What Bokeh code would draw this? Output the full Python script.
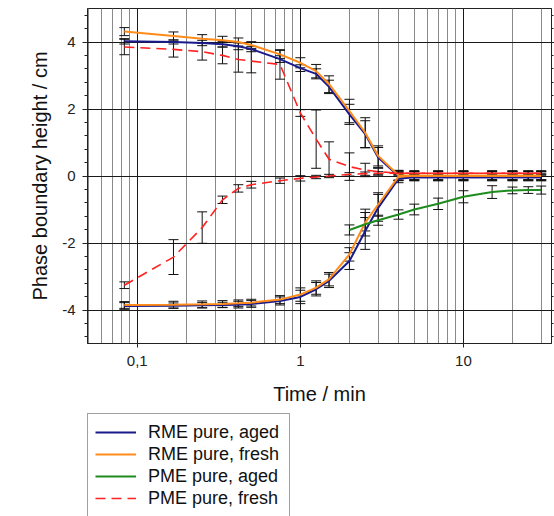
from bokeh.plotting import figure
from bokeh.layouts import column
from bokeh.models import (ColumnDataSource, Whisker, TeeHead, FixedTicker, LinearAxis,
                          Legend, LegendItem, Range1d, CustomJSTickFormatter)
from bokeh.embed import file_html
from bokeh.resources import INLINE

# ---- data ----
t = [0.0833, 0.1667, 0.25, 0.3333, 0.4167, 0.5, 0.75, 1.0, 1.25, 1.5, 2.0, 2.5, 3.0,
     4.0, 5.0, 7.0, 10.0, 15.0, 20.0, 25.0, 30.0]

rme_aged_top = [4.02, 4.00, 3.97, 3.93, 3.87, 3.79, 3.49, 3.22, 3.05, 2.66, 1.84, 1.25, 0.55,
                0.00, -0.04, -0.04, -0.04, -0.04, -0.04, -0.04, -0.04]
rme_aged_top_err = [0.08, 0.06, 0.08, 0.08, 0.10, 0.08, 0.10, 0.10, 0.15, 0.20, 0.30, 0.40, 0.30,
                    0.12, 0.10, 0.10, 0.10, 0.10, 0.10, 0.10, 0.10]
rme_aged_bot = [-3.88, -3.87, -3.86, -3.85, -3.84, -3.82, -3.73, -3.61, -3.38, -3.13, -2.54, -1.64, -0.95,
                -0.08, -0.04, -0.04, -0.04, -0.04, -0.04, -0.04, -0.04]
rme_aged_bot_err = [0.10, 0.08, 0.08, 0.08, 0.10, 0.10, 0.12, 0.20, 0.20, 0.20, 0.25, 0.55, 0.40,
                    0.12, 0.10, 0.10, 0.10, 0.10, 0.10, 0.10, 0.10]

rme_fresh_top = [4.31, 4.18, 4.10, 4.05, 4.00, 3.91, 3.63, 3.38, 3.13, 2.74, 1.94, 1.29, 0.60,
                 0.02, 0.01, 0.01, 0.01, 0.01, 0.01, 0.01, 0.01]
rme_fresh_top_err = [0.12, 0.12, 0.12, 0.12, 0.12, 0.10, 0.12, 0.15, 0.20, 0.25, 0.35, 0.45, 0.30,
                     0.15, 0.12, 0.12, 0.12, 0.12, 0.12, 0.12, 0.12]
rme_fresh_bot = [-3.85, -3.84, -3.83, -3.82, -3.80, -3.78, -3.69, -3.54, -3.33, -3.08, -2.34, -1.39, -0.85,
                 -0.02, 0.01, 0.01, 0.01, 0.01, 0.01, 0.01, 0.01]
rme_fresh_bot_err = [0.10, 0.10, 0.10, 0.10, 0.10, 0.10, 0.12, 0.20, 0.20, 0.20, 0.20, 0.40, 0.35,
                     0.12, 0.12, 0.12, 0.12, 0.12, 0.12, 0.12, 0.12]

t_pme_aged = [2.0, 2.5, 3.0, 4.0, 5.0, 7.0, 10.0, 15.0, 20.0, 25.0, 30.0]
pme_aged = [-1.61, -1.44, -1.32, -1.15, -1.00, -0.83, -0.62, -0.48, -0.43, -0.42, -0.42]
pme_aged_err = [0.15, 0.20, 0.15, 0.14, 0.16, 0.17, 0.18, 0.19, 0.10, 0.10, 0.12]

pme_fresh_top = [3.85, 3.78, 3.71, 3.60, 3.48, 3.43, 3.33, 1.88, 1.10, 0.50, 0.28, 0.18, 0.13,
                 0.08, 0.08, 0.08, 0.08, 0.08, 0.08, 0.08, 0.08]
pme_fresh_top_err = [0.23, 0.23, 0.25, 0.25, 0.38, 0.35, 0.44, 0.10, 0.87, 0.52, 0.41, 0.20, 0.10,
                     0.08, 0.08, 0.08, 0.08, 0.08, 0.08, 0.08, 0.08]
pme_fresh_bot = [-3.26, -2.42, -1.54, -0.71, -0.37, -0.26, -0.14, -0.07, -0.03, 0.00, 0.05, 0.07, 0.08,
                 0.08, 0.08, 0.08, 0.08, 0.08, 0.08, 0.08, 0.08]
pme_fresh_bot_err = [0.10, 0.52, 0.47, 0.11, 0.11, 0.10, 0.08, 0.08, 0.05, 0.05, 0.05, 0.05, 0.05,
                     0.05, 0.05, 0.05, 0.05, 0.05, 0.05, 0.05, 0.05]

x_major = [0.1, 1, 10]
x_labels = {0.1: "0,1", 1: "1", 10: "10"}
y_major = [-4, -2, 0, 2, 4]
y_labels = {-4: "-4", -2: "-2", 0: "0", 2: "2", 4: "4"}

names = ["RME pure, aged", "RME pure, fresh", "PME pure, aged", "PME pure, fresh"]
colors = ["#1a1a8c", "#ff8c1a", "#1e8c1e", "#ff2020"]
styles = [dict(line_width=2), dict(line_width=2), dict(line_width=2),
          dict(line_width=1.6, line_dash="10 6")]

FONT = "Liberation Sans"

p = figure(width=554, height=408, x_axis_type="log", output_backend="svg",
           toolbar_location=None, x_range=Range1d(0.0495, 34.7), y_range=Range1d(-5, 5),
           min_border_left=87, min_border_right=3, min_border_top=8, min_border_bottom=65)
p.outline_line_color = "#222222"
p.outline_line_width = 1
p.background_fill_color = "white"
p.border_fill_color = "white"

x_minor = [m * d for d in (0.01, 0.1, 1, 10) for m in range(2, 10) if 0.05 <= m * d <= 35]
y_minor = [v for v in [round(-4.8 + 0.4 * i, 2) for i in range(25)] if v not in y_major]

p.xaxis.ticker = FixedTicker(ticks=x_major, minor_ticks=x_minor)
p.xaxis.major_label_overrides = x_labels
p.yaxis.ticker = FixedTicker(ticks=y_major, minor_ticks=y_minor)
p.yaxis.major_label_overrides = y_labels

for ax in (p.xaxis[0], p.yaxis[0]):
    ax.axis_line_color = "#222222"
    ax.major_tick_line_color = "#222222"
    ax.minor_tick_line_color = "#222222"
    ax.major_label_text_font = FONT
    ax.major_label_text_font_size = "15px"
    ax.major_label_text_color = "#222222"
    ax.axis_label_text_font = FONT
    ax.axis_label_text_font_size = "20px"
    ax.axis_label_text_font_style = "normal"
    ax.axis_label_text_color = "#111111"
    ax.major_tick_in = 0
    ax.minor_tick_in = 0

p.xaxis.axis_label = "Time / min"
p.xaxis.major_tick_out = 4
p.xaxis.minor_tick_out = 0
p.xaxis.major_label_standoff = 8
p.xaxis.axis_label_standoff = 14
p.yaxis.axis_label = "Phase boundary height / cm"
p.yaxis.major_tick_out = 5
p.yaxis.minor_tick_out = 3
p.yaxis.major_label_standoff = 7
p.yaxis.axis_label_standoff = 8

rax = LinearAxis(ticker=FixedTicker(ticks=y_major, minor_ticks=y_minor),
                 formatter=CustomJSTickFormatter(code="return ''"),
                 major_tick_out=3, major_tick_in=0, minor_tick_out=2, minor_tick_in=0,
                 axis_line_color="#222222", major_tick_line_color="#222222",
                 minor_tick_line_color="#222222", major_label_standoff=0)
p.add_layout(rax, "right")

p.xgrid.grid_line_color = "#1a1a1a"
p.xgrid.minor_grid_line_color = "#8a8a8a"
p.ygrid.grid_line_color = "#1a1a1a"
p.ygrid.minor_grid_line_color = None

# ---- lines ----
p.line(t, rme_aged_top, line_color=colors[0], **styles[0])
p.line(t, rme_aged_bot, line_color=colors[0], **styles[0])
p.line(t, rme_fresh_top, line_color=colors[1], **styles[1])
p.line(t, rme_fresh_bot, line_color=colors[1], **styles[1])
p.line(t_pme_aged, pme_aged, line_color=colors[2], **styles[2])
p.line(t, pme_fresh_top, line_color=colors[3], **styles[3])
p.line(t, pme_fresh_bot, line_color=colors[3], **styles[3])


def add_err(xs, ys, errs):
    src = ColumnDataSource(dict(x=xs, lo=[y - e for y, e in zip(ys, errs)],
                                hi=[y + e for y, e in zip(ys, errs)]))
    w = Whisker(base="x", lower="lo", upper="hi", source=src, dimension="height",
                line_color="#111111", line_width=1,
                lower_head=TeeHead(size=10, line_color="#111111", line_width=1),
                upper_head=TeeHead(size=10, line_color="#111111", line_width=1))
    p.add_layout(w)


add_err(t, rme_aged_top, rme_aged_top_err)
add_err(t, rme_aged_bot, rme_aged_bot_err)
add_err(t, rme_fresh_top, rme_fresh_top_err)
add_err(t, rme_fresh_bot, rme_fresh_bot_err)
add_err(t_pme_aged, pme_aged, pme_aged_err)
add_err(t, pme_fresh_top, pme_fresh_top_err)
add_err(t, pme_fresh_bot, pme_fresh_bot_err)

# ---- legend figure below the chart ----
pl = figure(width=554, height=108, output_backend="svg", toolbar_location=None,
            x_range=Range1d(0, 1), y_range=Range1d(0, 1),
            min_border_left=0, min_border_right=0, min_border_top=0, min_border_bottom=0)
pl.axis.visible = False
pl.grid.visible = False
pl.outline_line_color = None
pl.background_fill_color = "white"
pl.border_fill_color = "white"

items = []
for name, col, st in zip(names, colors, styles):
    # proxy renderers (kept outside the visible range) that carry the legend styling
    r = pl.line([5, 6], [5, 6], line_color=col, **st)
    items.append(LegendItem(label=name, renderers=[r]))

legend = Legend(items=items, location=(0, -1))
legend.label_text_font = FONT
legend.label_text_font_size = "18px"
legend.label_text_color = "#111111"
legend.glyph_width = 41
legend.glyph_height = 22
legend.label_height = 22
legend.label_width = 134
legend.spacing = 0
legend.padding = 7
legend.margin = 0
legend.label_standoff = 12
legend.border_line_color = "#444444"
legend.border_line_width = 1
legend.background_fill_color = "white"
legend.background_fill_alpha = 1
pl.add_layout(legend)

open("out.html", "w").write(file_html(column(p, pl, spacing=0), INLINE))
